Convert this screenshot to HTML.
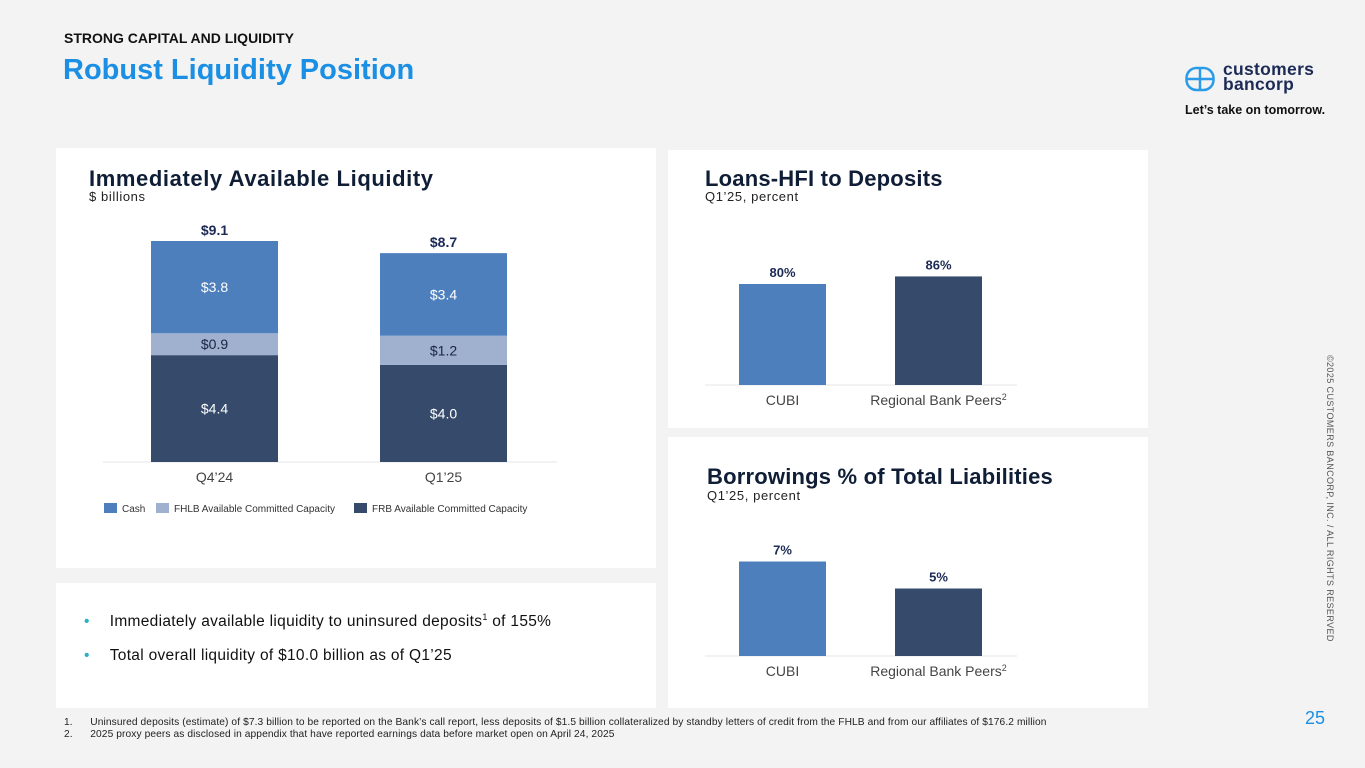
<!DOCTYPE html>
<html><head><meta charset="utf-8"><style>
body{margin:0;width:1365px;height:768px;background:#f3f3f3;font-family:"Liberation Sans",sans-serif;position:relative;overflow:hidden;color:#0f1e36}
.abs{position:absolute}
.panel{position:absolute;background:#fff}
.h{font-weight:bold;font-size:22px;color:#0f1e36;letter-spacing:.2px}
.sub{font-size:13px;color:#222;letter-spacing:.6px}
</style></head><body>
<div class="abs" style="left:64px;top:30px;font-size:14px;font-weight:bold;color:#111">STRONG CAPITAL AND LIQUIDITY</div>
<div class="abs" style="left:63px;top:54px;font-size:29px;font-weight:bold;color:#1a8fe3">Robust Liquidity Position</div>
<div class="abs" style="left:1185px;top:62px;width:150px;height:60px">
<svg width="30" height="28" class="abs" style="left:0;top:3px"><rect x="1.5" y="3" width="27" height="22" rx="10" fill="none" stroke="#2a9be8" stroke-width="2.5"/><line x1="2" y1="14" x2="28" y2="14" stroke="#2a9be8" stroke-width="2.5"/><line x1="15" y1="3" x2="15" y2="25" stroke="#2a9be8" stroke-width="2.5"/></svg>
<div class="abs" style="left:38px;top:0;font-size:17.5px;font-weight:bold;color:#1c2a55;line-height:15px;letter-spacing:.3px">customers<br>bancorp</div>
</div>
<div class="abs" style="left:1185px;top:103px;font-size:12.5px;font-weight:bold;color:#111">Let’s take on tomorrow.</div>
<div class="abs" style="left:1200px;top:480px;transform:rotate(90deg);transform-origin:center;font-size:9px;color:#555;white-space:nowrap;width:260px;text-align:center;letter-spacing:.4px">©2025 CUSTOMERS BANCORP, INC. / ALL RIGHTS RESERVED</div>

<div class="panel" style="left:56px;top:148px;width:600px;height:420px"></div>
<div class="panel" style="left:56px;top:583px;width:600px;height:125px"></div>
<div class="panel" style="left:668px;top:150px;width:480px;height:278px"></div>
<div class="panel" style="left:668px;top:437px;width:480px;height:271px"></div>

<div class="abs h" style="left:89px;top:166px;letter-spacing:.6px">Immediately Available Liquidity</div>
<div class="abs sub" style="left:89px;top:189px">$ billions</div>
<div class="abs h" style="left:705px;top:166px">Loans-HFI to Deposits</div>
<div class="abs sub" style="left:705px;top:189px">Q1’25, percent</div>
<div class="abs h" style="left:707px;top:464px">Borrowings % of Total Liabilities</div>
<div class="abs sub" style="left:707px;top:488px">Q1’25, percent</div>

<div class="abs" style="left:84px;top:612px;font-size:15.5px;color:#111;letter-spacing:.3px"><span style="color:#2ab0c0;margin-right:20px">•</span>Immediately available liquidity to uninsured deposits<sup style="font-size:9px">1</sup> of 155%</div>
<div class="abs" style="left:84px;top:647px;font-size:15.5px;color:#111;letter-spacing:.3px"><span style="color:#2ab0c0;margin-right:20px">•</span>Total overall liquidity of $10.0 billion as of Q1’25</div>

<div class="abs" style="left:64px;top:717px;font-size:10.2px;color:#222;line-height:12px;white-space:nowrap;letter-spacing:.1px">1.&nbsp;&nbsp;&nbsp;&nbsp;&nbsp; Uninsured deposits (estimate) of $7.3 billion to be reported on the Bank’s call report, less deposits of $1.5 billion collateralized by standby letters of credit from the FHLB and from our affiliates of $176.2 million<br>2.&nbsp;&nbsp;&nbsp;&nbsp;&nbsp; 2025 proxy peers as disclosed in appendix that have reported earnings data before market open on April 24, 2025</div>
<div class="abs" style="left:1305px;top:708px;font-size:18px;color:#1a8fe3">25</div>

<svg id="chart" class="abs" style="left:0;top:0" width="1365" height="768"></svg>
<script>
const stackCats=["Q4’24","Q1’25"];
const frb=[4.4,4.0];
const fhlb=[0.9,1.2];
const cash=[3.8,3.4];
const totals=["$9.1","$8.7"];
const loanCats=["CUBI","Regional Bank Peers"];
const loanVals=[80,86];
const borrowCats=["CUBI","Regional Bank Peers"];
const borrowVals=[7,5];

const svg=document.getElementById('chart');
const NS='http://www.w3.org/2000/svg';
function el(t,a,txt){const e=document.createElementNS(NS,t);for(const k in a)e.setAttribute(k,a[k]);if(txt!==undefined)e.textContent=txt;svg.appendChild(e);return e;}
const C1='#4d7fbd',C2='#9fb1cf',C3='#364b6c';

const base=462,ppu=221/9.1,bx=[151,380],bw=127;
const yS=v=>base-v*ppu;
el('line',{x1:103,x2:557,y1:base,y2:base,stroke:'#e4e4e4'});
stackCats.forEach((c,i)=>{
  const segs=[[frb[i],C3,'#fff','frb'],[fhlb[i],C2,'#1a2540','fhlb'],[cash[i],C1,'#fff','cash']];
  let acc=0;
  segs.forEach(s=>{
    const r=el('rect',{x:bx[i],y:yS(acc+s[0]),width:bw,height:s[0]*ppu,fill:s[1]});
    
    
    el('text',{x:bx[i]+bw/2,y:yS(acc+s[0]/2)+5,'text-anchor':'middle','font-size':14,fill:s[2],'font-family':'Liberation Sans'},'$'+s[0].toFixed(1));
    acc+=s[0];
  });
  el('text',{x:bx[i]+bw/2,y:yS(acc)-6,'text-anchor':'middle','font-size':14,'font-weight':'bold',fill:'#1c2a55'},totals[i]);
  el('text',{x:bx[i]+bw/2,y:base+20,'text-anchor':'middle','font-size':14,fill:'#444'},c);
});
[[104,C1,'Cash'],[156,C2,'FHLB Available Committed Capacity'],[354,C3,'FRB Available Committed Capacity']].forEach((l,i)=>{
  const r=el('rect',{x:l[0],y:503,width:13,height:10,fill:l[1]});
  
  
  el('text',{x:l[0]+18,y:512,'font-size':10,fill:'#333'},l[2]);
});

function simpleBars(cats,vals,baseY,ppv,prefix){
  const xs=[739,895],w=87;
  el('line',{x1:705,x2:1017,y1:baseY,y2:baseY,stroke:'#e4e4e4'});
  cats.forEach((c,i)=>{
    const h=vals[i]*ppv;
    const r=el('rect',{x:xs[i],y:baseY-h,width:w,height:h,fill:i==0?C1:C3});
    
    
    el('text',{x:xs[i]+w/2,y:baseY-h-7,'text-anchor':'middle','font-size':13,'font-weight':'bold',fill:'#1c2a55'},vals[i]+'%');
    const t=el('text',{x:xs[i]+w/2,y:baseY+20,'text-anchor':'middle','font-size':14,fill:'#444'},c);
    if(i==1){const s=document.createElementNS(NS,'tspan');s.setAttribute('font-size','9');s.setAttribute('dy','-5');s.textContent='2';t.appendChild(s);}
  });
}
simpleBars(loanCats,loanVals,385,101/80,'loans');
simpleBars(borrowCats,borrowVals,656,13.5,'borrow');
</script>
</body></html>
